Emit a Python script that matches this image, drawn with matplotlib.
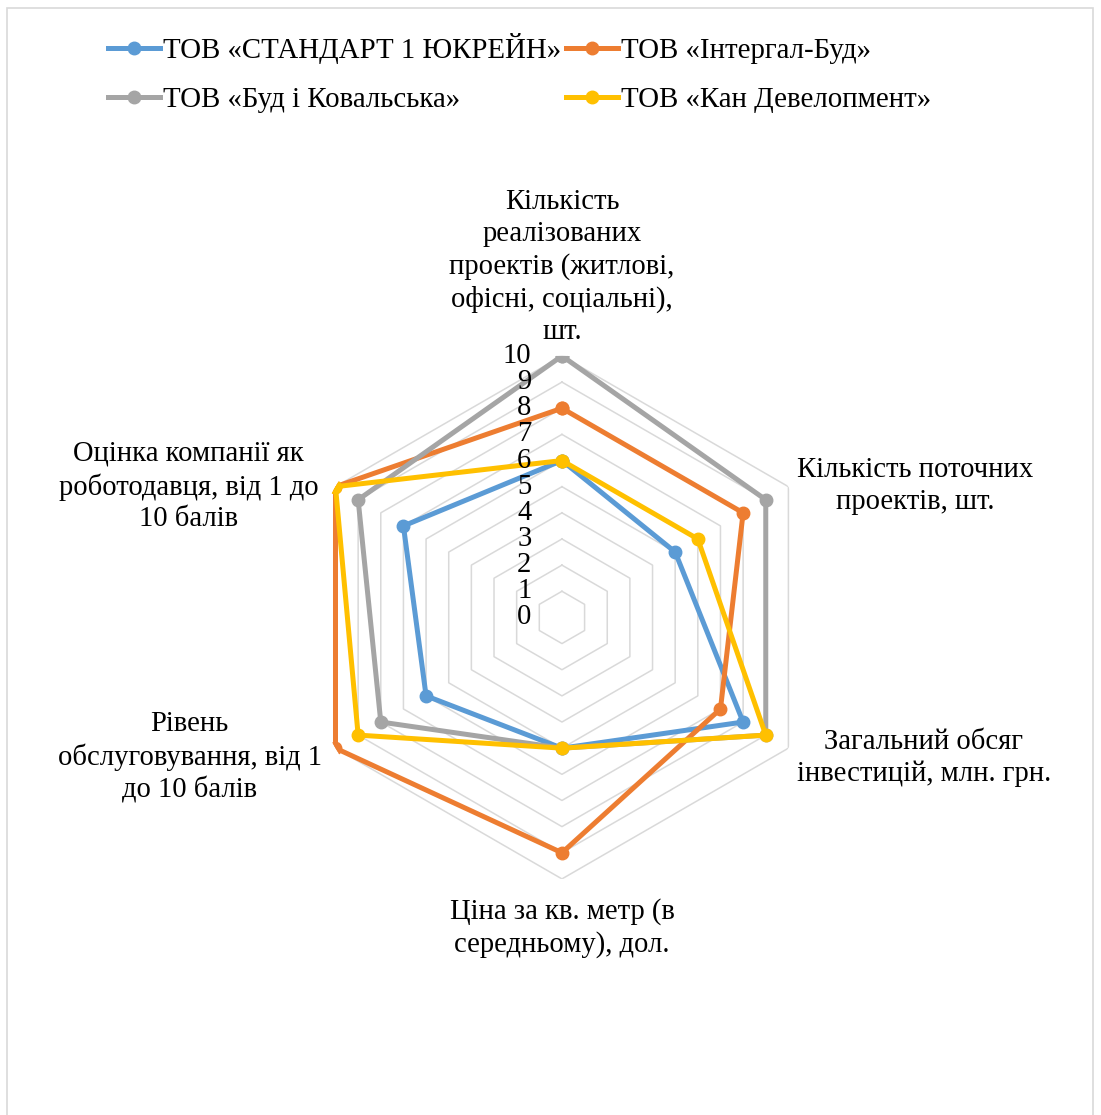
import numpy as np
import matplotlib.pyplot as plt
from matplotlib.patches import Rectangle
from matplotlib.lines import Line2D

plt.rcParams['font.family'] = ['Liberation Serif', 'DejaVu Serif']

categories = [
    'Кількість\nреалізованих\nпроектів (житлові,\nофісні, соціальні),\nшт.',
    'Кількість поточних\nпроектів, шт.',
    'Загальний обсяг\nінвестицій, млн. грн.',
    'Ціна за кв. метр (в\nсередньому), дол.',
    'Рівень\nобслуговування, від 1\nдо 10 балів',
    'Оцінка компанії як\nроботодавця, від 1 до\n10 балів',
]
series_names = ['ТОВ «СТАНДАРТ 1 ЮКРЕЙН»', 'ТОВ «Інтергал-Буд»',
                'ТОВ «Буд і Ковальська»', 'ТОВ «Кан Девелопмент»']
standart = [6, 5, 8, 5, 6, 7]
intergal = [8, 8, 7, 9, 10, 10]
bud_kov = [10, 9, 9, 5, 8, 9]
kan = [6, 6, 9, 5, 9, 10]
ticks = list(range(0, 11))

colors = ['#5B9BD5', '#ED7D31', '#A5A5A5', '#FFC000']
values = [standart, intergal, bud_kov, kan]
FS = 20.6

n = len(categories)
theta = np.linspace(0, 2 * np.pi, n, endpoint=False)
theta_c = np.append(theta, theta[0])

fig = plt.figure(figsize=(11.01, 11.15), dpi=100)
ax = fig.add_axes([0.2729, 0.2117, 0.4750, 0.4691], projection='polar')
ax.set_theta_zero_location('N')
ax.set_theta_direction(-1)
ax.set_ylim(0, 10)
ax.grid(False)
ax.spines['polar'].set_visible(False)
ax.set_xticks([])
ax.set_yticks([])
ax.patch.set_alpha(0)

# hexagonal grid
for k in ticks[1:]:
    ax.plot(theta_c, [k] * (n + 1), color='#D9D9D9', lw=1.1, zorder=1)

for vals, col in zip(values, colors):
    v = np.append(vals, vals[0])
    ax.plot(theta_c, v, color=col, lw=3.6, marker='o', ms=9, zorder=3,
            solid_joinstyle='miter')

# radial tick labels
for k in ticks:
    ax.annotate(str(k), xy=(0, k), xytext=(-22, 0), textcoords='offset points',
                ha='right', va='center', fontsize=FS, zorder=5)

# category labels
lab_fmt = [
    dict(xytext=(0, 8), ha='center', va='bottom'),
    dict(xytext=(6, 0.3), ha='left', va='center'),
    dict(xytext=(6, -7), ha='left', va='center'),
    dict(xytext=(0, -14), ha='center', va='top'),
    dict(xytext=(-10, -6.5), ha='right', va='center'),
    dict(xytext=(-12.5, 0), ha='right', va='center'),
]
for t, lab, f in zip(theta, categories, lab_fmt):
    ax.annotate(lab, xy=(t, 10), textcoords='offset points', fontsize=FS,
                multialignment='center', linespacing=1.29,
                annotation_clip=False, **f)

# legend (row-wise order)
handles = [Line2D([], [], color=c, lw=3.6, marker='o', ms=9) for c in colors]
order = [0, 2, 1, 3]
fig.legend([handles[i] for i in order], [series_names[i] for i in order],
           ncol=2, loc='upper left', bbox_to_anchor=(108 / 1101, 1 - 33 / 1115),
           frameon=False, fontsize=20.8, handlelength=1.8, handletextpad=0.1,
           columnspacing=0.17, labelspacing=0.8, borderpad=0, borderaxespad=0)

# chart area border
fig.patches.append(Rectangle((7 / 1101, -0.02), 1086 / 1101, 1 - 8 / 1115 + 0.02,
                             transform=fig.transFigure, fill=False,
                             edgecolor='#D9D9D9', lw=1.2))

fig.savefig('out.png', dpi=100)
